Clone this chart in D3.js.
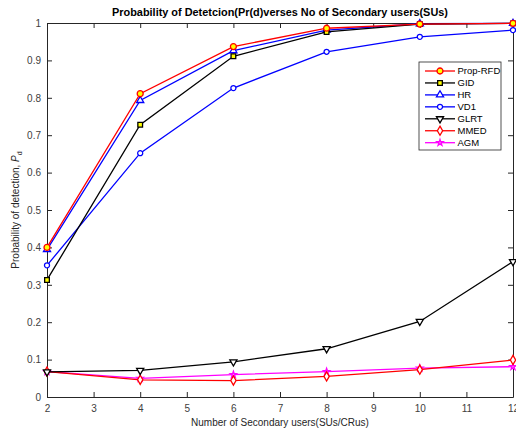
<!DOCTYPE html>
<html>
<head>
<meta charset="utf-8">
<script src="https://cdn.jsdelivr.net/npm/d3@7"></script>
<style>
  body { margin: 0; background: #fff; }
  text { font-family: "Liberation Sans", Arial, sans-serif; }
</style>
</head>
<body>
<div id="chart"></div>
<script>
// number of secondary users
var users = [2, 4, 6, 8, 10, 12];

var propRFD = [0.400, 0.811, 0.937, 0.986, 0.997, 0.999];
var gid     = [0.313, 0.728, 0.911, 0.976, 0.997, 0.999];
var hr      = [0.394, 0.793, 0.926, 0.981, 0.998, 0.999];
var vd1     = [0.352, 0.652, 0.826, 0.923, 0.963, 0.981];
var glrt    = [0.067, 0.071, 0.094, 0.129, 0.202, 0.362];
var mmed    = [0.068, 0.046, 0.044, 0.055, 0.073, 0.099];
var agm     = [0.068, 0.050, 0.060, 0.068, 0.077, 0.081];

var xTicks = [2, 3, 4, 5, 6, 7, 8, 9, 10, 11, 12];
var yTicks = [0, 0.1, 0.2, 0.3, 0.4, 0.5, 0.6, 0.7, 0.8, 0.9, 1];

var series = [
    { name: "Prop-RFD", values: propRFD, color: "#ff0000", symbol: d3.symbolCircle,   size: 28, fill: "#ffff00" },
    { name: "GID",      values: gid,     color: "#000000", symbol: d3.symbolSquare,   size: 22, fill: "#ffff00" },
    { name: "HR",       values: hr,      color: "#0000ff", symbol: d3.symbolTriangle, size: 22, fill: "#ffffff" },
    { name: "VD1",      values: vd1,     color: "#0000ff", symbol: d3.symbolCircle,   size: 20, fill: "#ffffff" },
    { name: "GLRT",     values: glrt,    color: "#000000", symbol: d3.symbolTriangle, size: 22, fill: "#ffffff", flip: true },
    { name: "MMED",     values: mmed,    color: "#ff0000", symbol: d3.symbolDiamond,  size: 24, fill: "#ffffff" },
    { name: "AGM",      values: agm,     color: "#ff00ff", symbol: d3.symbolStar,     size: 12, fill: "#ff88ff" }
];

var width = 516, height = 428;
var margin = { left: 47, right: 3, top: 23, bottom: 31 };

var x = d3.scaleLinear().domain([2, 12]).range([margin.left, width - margin.right]);
var y = d3.scaleLinear().domain([0, 1]).range([height - margin.bottom, margin.top]);

var svg = d3.select("#chart").append("svg")
    .attr("width", width)
    .attr("height", height);

var axisColor = "#262626";
var tickLen = 5;

// axes (MATLAB style, ticks inside)
var xAxis = svg.append("g")
    .attr("transform", "translate(0," + y(0) + ")")
    .call(d3.axisBottom(x).tickValues(xTicks).tickSizeInner(-tickLen).tickSizeOuter(0).tickPadding(8).tickFormat(d3.format("d")));
var xAxisTop = svg.append("g")
    .attr("transform", "translate(0," + y(1) + ")")
    .call(d3.axisTop(x).tickValues(xTicks).tickSizeInner(-tickLen).tickSizeOuter(0).tickFormat(""));
var yAxis = svg.append("g")
    .attr("transform", "translate(" + x(2) + ",0)")
    .call(d3.axisLeft(y).tickValues(yTicks).tickSizeInner(-tickLen).tickSizeOuter(0).tickPadding(6).tickFormat(function (d) { return d3.format("")(+d.toFixed(1)); }));
var yAxisRight = svg.append("g")
    .attr("transform", "translate(" + x(12) + ",0)")
    .call(d3.axisRight(y).tickValues(yTicks).tickSizeInner(-tickLen).tickSizeOuter(0).tickFormat(""));

[xAxis, xAxisTop, yAxis, yAxisRight].forEach(function (g) {
    g.select(".domain").attr("stroke", axisColor).attr("stroke-width", 1);
    g.selectAll(".tick line").attr("stroke", axisColor);
    g.selectAll(".tick text").attr("fill", "#404040").attr("font-size", "10px")
        .attr("font-family", "Liberation Sans, Arial, sans-serif");
});

var line = d3.line()
    .x(function (d, i) { return x(users[i]); })
    .y(function (d) { return y(d); });

function marker(s) {
    return d3.symbol().type(s.symbol).size(s.size)();
}

// draw series in reverse so Prop-RFD stays on top
series.slice().reverse().forEach(function (s) {
    var g = svg.append("g");
    g.append("path")
        .datum(s.values)
        .attr("fill", "none")
        .attr("stroke", s.color)
        .attr("stroke-width", 1.3)
        .attr("d", line);
    g.selectAll("path.mk")
        .data(s.values)
        .enter().append("path")
        .attr("class", "mk")
        .attr("d", marker(s))
        .attr("transform", function (d, i) {
            return "translate(" + x(users[i]) + "," + y(d) + ")" + (s.flip ? " rotate(180)" : "");
        })
        .attr("fill", s.fill)
        .attr("stroke", s.color)
        .attr("stroke-width", 1.3);
});

// title
svg.append("text")
    .attr("x", (x(2) + x(12)) / 2)
    .attr("y", 16)
    .attr("text-anchor", "middle")
    .attr("font-size", "10.9px")
    .attr("font-weight", "bold")
    .attr("fill", "#000")
    .text("Probability of Detetcion(Pr(d)verses No of Secondary users(SUs)");

// x label
svg.append("text")
    .attr("x", (x(2) + x(12)) / 2)
    .attr("y", 426)
    .attr("text-anchor", "middle")
    .attr("font-size", "10px")
    .attr("fill", "#262626")
    .text("Number of Secondary users(SUs/CRus)");

// y label
var yl = svg.append("text")
    .attr("transform", "translate(19," + (y(0) + y(1)) / 2 + ") rotate(-90)")
    .attr("text-anchor", "middle")
    .attr("font-size", "10px")
    .attr("fill", "#262626");
yl.append("tspan").text("Probability of detection, ");
yl.append("tspan").attr("font-style", "italic").text("P");
yl.append("tspan").attr("font-size", "7px").attr("dy", "3").text("d");

// legend
var lg = svg.append("g").attr("transform", "translate(419,62)");
lg.append("rect")
    .attr("width", 82)
    .attr("height", 88)
    .attr("fill", "#fff")
    .attr("stroke", axisColor)
    .attr("stroke-width", 0.8);
series.forEach(function (s, i) {
    var cy = 9 + i * 11.95;
    lg.append("line")
        .attr("x1", 6).attr("x2", 36)
        .attr("y1", cy).attr("y2", cy)
        .attr("stroke", s.color)
        .attr("stroke-width", 1.3);
    lg.append("path")
        .attr("d", marker(s))
        .attr("transform", "translate(21," + cy + ")" + (s.flip ? " rotate(180)" : ""))
        .attr("fill", s.fill)
        .attr("stroke", s.color)
        .attr("stroke-width", 1.3);
    lg.append("text")
        .attr("x", 38.5)
        .attr("y", cy)
        .attr("dy", "0.35em")
        .attr("font-size", "9.5px")
        .attr("fill", "#000")
        .text(s.name);
});
</script>
</body>
</html>
